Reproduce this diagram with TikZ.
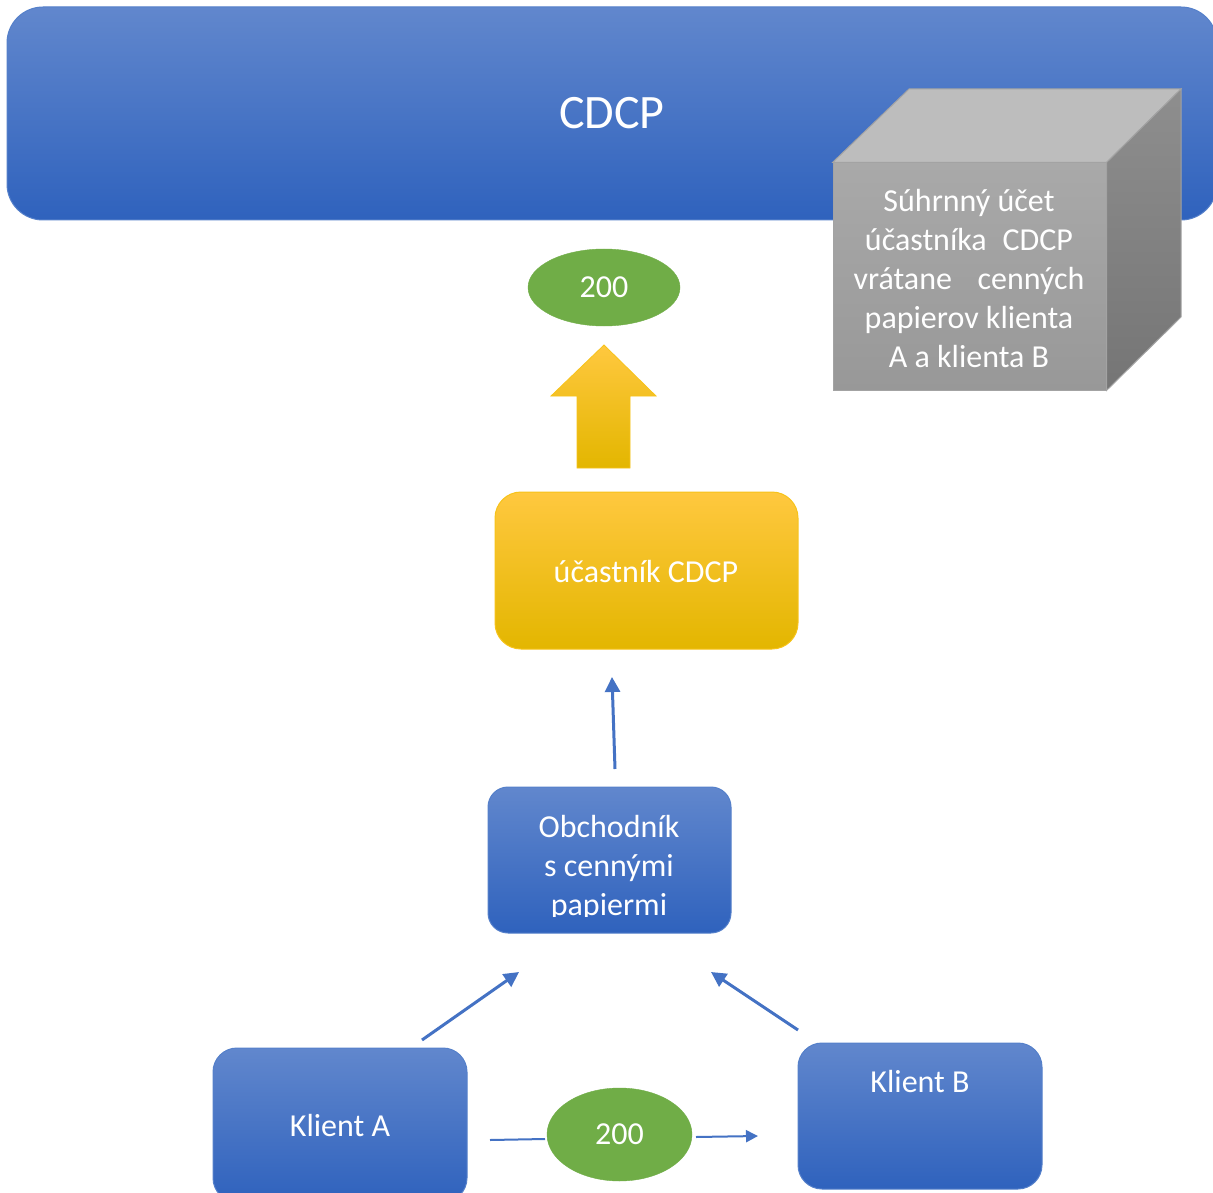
\documentclass[tikz,border=0pt]{standalone}
\usepackage{fontspec}
\setmainfont{Carlito}
\usetikzlibrary{arrows.meta,shapes.geometric}
\definecolor{bluetop}{HTML}{6187CD}
\definecolor{bluebot}{HTML}{2F62BD}
\definecolor{blueedge}{HTML}{5580CA}
\definecolor{blueline}{HTML}{4472C4}
\definecolor{grn}{HTML}{70AD47}
\definecolor{yeltop}{HTML}{FFC83F}
\definecolor{yelmid}{HTML}{FFC400}
\definecolor{yelbot}{HTML}{E3B600}
\definecolor{yeledge}{HTML}{F7C31A}
\definecolor{cubefronttop}{HTML}{A9A9A9}
\definecolor{cubefrontbot}{HTML}{989898}
\definecolor{cubetop}{HTML}{BDBDBD}
\definecolor{cubesidetop}{HTML}{8E8E8E}
\definecolor{cubesidebot}{HTML}{757575}
\definecolor{cubeedge}{HTML}{A3A3A3}
\begin{document}
\begin{tikzpicture}[x=1pt,y=-1pt,
  txt/.style={text=white,font=\fontsize{32}{39}\selectfont,align=center},
  bluebox/.style={draw=blueedge,line width=1pt,top color=bluetop,bottom color=bluebot,txt,inner sep=0pt},
  yelbox/.style={draw=yeledge,line width=1pt,top color=yeltop,middle color=yelmid,bottom color=yelbot,txt,inner sep=0pt},
  greenoval/.style={ellipse,fill=grn,draw=grn,txt,inner sep=0pt},
  conn/.style={draw=blueline,line width=3pt,-{Triangle[length=15pt,width=15pt]}},
  thinconn/.style={draw=blueline,line width=2pt},
]
\useasboundingbox (0,0) rectangle (1213,1193);
\clip (0,0) rectangle (1213,1193);
\fill[white] (0,0) rectangle (1213,1193);

% CDCP banner
\node[bluebox,rounded corners=36pt,minimum width=1210pt,minimum height=213pt,font=\fontsize{48}{52}\selectfont] (cdcp) at (612,113.5) {CDCP};

% cube
\node[draw=cubeedge,line width=1pt,top color=cubefronttop,bottom color=cubefrontbot,minimum width=273pt,minimum height=227pt,inner sep=0pt] (cube) at (969.5,276.5) {};
\fill[cubetop,draw=cubeedge,line width=1pt] (cube.north west) -- (909,89) -- (1181,89) -- (cube.north east) -- cycle;
\shade[top color=cubesidetop,bottom color=cubesidebot,draw=cubeedge,line width=1pt] (cube.north east) -- (1181,89) -- (1181,317) -- (cube.south east) -- cycle;
\node[txt] (cubetext) at (969,279) {Súhrnný účet\\účastníka\hspace{0.5em}CDCP\\vrátane\hspace{0.8em}cenných\\papierov klienta\\A a klienta B};

% top oval
\node[greenoval,minimum width=152pt,minimum height=77pt] (v1) at (604,287.5) {200};

% block arrow
\shade[top color=yeltop,middle color=yelmid,bottom color=yelbot,draw=yeledge,line width=0.8pt]
  (577,468) -- (577,396) -- (551,396) -- (604,345) -- (656,396) -- (630,396) -- (630,468) -- cycle;

% participant
\node[yelbox,rounded corners=26pt,minimum width=303pt,minimum height=157pt] (ucast) at (646.5,570.5) {};
\node[txt] (ucasttext) at (646,572) {účastník CDCP};

% trader
\node[bluebox,rounded corners=20pt,minimum width=243pt,minimum height=146pt] (obch) at (609.5,860) {};
\begin{scope}
\clip (488,787) rectangle (731,916);
\node[txt] (obchtext) at (609,867.5) {Obchodník\\s cennými\\papiermi};
\end{scope}

% clients
\node[bluebox,rounded corners=24pt,minimum width=254pt,minimum height=154pt] (ka) at (340,1125) {Klient A};
\node[bluebox,rounded corners=24pt,minimum width=244pt,minimum height=146pt] (kb) at (920,1116) {};
\node[txt] (kbtext) at (920,1081) {Klient B};

% bottom oval
\node[greenoval,minimum width=145pt,minimum height=93pt] (v2) at (619.5,1134.5) {200};

% connectors
\coordinate (a1s) at (615,769);
\coordinate (a1e) at (612,677);
\coordinate (a2s) at (422,1040);
\coordinate (a2e) at (519,972);
\coordinate (a3s) at (798,1030);
\coordinate (a3e) at (711,972);
\coordinate (l1s) at (490,1140);
\coordinate (l1e) at (545,1139);
\coordinate (l2s) at (696,1137);
\coordinate (l2e) at (758,1136);
\draw[conn] (a1s) -- (a1e);
\draw[conn] (a2s) -- (a2e);
\draw[conn] (a3s) -- (a3e);
\draw[thinconn] (l1s) -- (l1e);
\draw[thinconn,-{Triangle[length=12pt,width=12pt]}] (l2s) -- (l2e);
\end{tikzpicture}
\end{document}
